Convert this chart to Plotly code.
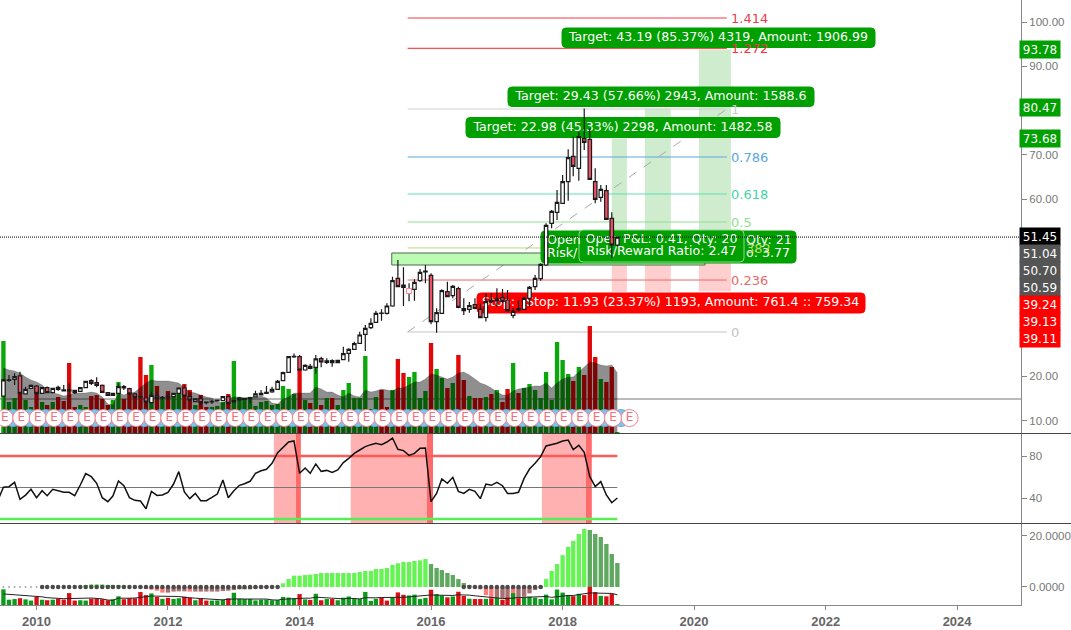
import pandas as pd
import plotly.graph_objects as go

# ---------------- data ----------------
dates = pd.date_range("2009-07-01", periods=113, freq="MS")

opens = [15.58,19.1,19.35,20.1,16.04,17.32,17.84,16.19,17.47,16.34,
17.54,16.94,16.94,16.86,16.64,17.47,19.05,18.59,18.0,16.34,
15.74,16.19,17.69,17.24,16.04,15.45,15.13,14.08,15.58,15.13,
15.2,15.43,16.19,17.39,15.43,14.31,14.98,14.2,14.23,14.46,
14.53,15.43,14.23,14.68,14.83,14.98,15.36,15.81,16.19,16.49,
17.09,19.05,20.93,24.4,24.46,21.45,22.28,22.05,24.01,23.49,
23.56,23.11,23.79,25.22,26.12,27.47,29.5,31.0,32.2,34.2,
34.24,35.9,42.14,40.63,38.9,39.66,41.61,43.57,42.82,32.36,
34.24,39.13,38.23,39.81,35.29,35.14,36.2,35.14,33.3,37.25,
37.47,37.77,37.25,33.79,34.99,35.14,37.63,40.26,42.07,45.15,
54.55,57.04,59.07,63.96,69.68,66.97,73.67,73.51,63.96,60.42,
61.93,55.68,49.66]
highs = [19.4,20.3,20.7,21.08,17.69,18.2,18.07,17.6,17.7,17.4,
17.92,18.07,18.44,17.0,17.6,19.0,19.35,19.8,18.15,16.5,
16.3,18.44,18.07,17.47,16.34,15.58,15.43,16.56,16.56,15.58,
16.34,16.3,17.5,18.07,16.04,15.0,15.58,14.3,14.68,14.75,
15.5,15.74,14.6,15.28,15.2,15.3,16.79,16.94,17.84,17.69,
19.2,21.08,24.6,25.2,24.84,22.73,22.8,24.84,24.46,24.09,
23.86,23.7,26.72,26.34,27.85,30.11,31.6,33.11,34.84,35.14,
36.5,42.5,46.28,44.62,41.01,41.91,44.25,45.15,43.27,35.37,
39.66,41.39,40.63,40.26,37.63,36.8,37.63,36.5,38.8,38.75,
39.88,39.73,39.51,35.37,37.25,38.0,40.41,42.9,45.53,54.55,
57.56,62.08,65.46,71.26,74.12,75.25,80.47,76.0,66.97,63.21,
63.21,57.04,51.6]
lows = [15.43,18.8,18.07,16.19,16.04,17.2,15.81,16.1,16.2,16.19,
16.79,16.71,15.43,16.04,16.5,17.4,18.07,17.54,16.34,15.7,
15.6,16.04,16.94,15.74,15.06,15.06,13.18,13.93,14.68,14.68,
14.68,15.3,16.1,15.43,14.31,14.2,13.55,13.7,13.78,14.3,
14.4,13.78,14.1,14.53,14.7,13.93,15.28,15.74,16.04,16.34,
17.0,19.0,20.8,24.24,21.3,21.3,21.6,20.55,22.05,22.81,
22.21,23.0,23.71,23.33,25.97,27.3,25.74,30.7,32.13,32.58,
34.0,35.74,40.11,35.9,36.95,37.1,41.39,41.01,31.76,29.87,
34.09,37.85,37.63,35.37,33.86,34.39,35.14,33.19,32.4,36.5,
35.74,36.5,34.61,33.11,34.61,34.99,35.74,39.51,41.61,44.92,
53.43,55.31,58.92,59.67,65.2,64.18,71.1,64.33,59.07,59.45,
55.31,46.65,49.28]
closes = [19.2,19.2,19.95,16.19,17.09,18.0,16.19,17.47,16.34,17.32,
17.09,16.71,16.74,16.34,17.47,18.9,18.44,18.0,16.41,15.74,
16.19,17.69,17.39,16.04,15.28,15.36,14.23,15.74,15.06,15.28,
15.36,16.19,17.39,15.58,14.68,14.91,14.08,14.08,14.38,14.68,
15.43,13.93,14.53,14.98,15.06,15.2,16.04,16.19,16.41,17.09,
18.9,20.85,24.46,24.54,21.45,22.5,21.83,23.94,23.26,23.19,
23.11,23.64,25.14,26.12,27.4,29.35,30.85,31.98,34.24,34.3,
35.89,41.61,40.26,40.11,39.65,41.24,43.5,43.8,32.36,34.39,
39.36,38.0,40.33,35.59,34.84,35.97,35.37,33.26,36.9,36.8,
37.1,36.95,34.84,34.69,35.29,37.63,40.11,42.14,45.3,54.1,
57.26,59.29,63.96,69.38,67.42,74.12,72.84,64.49,59.97,62.23,
55.46,49.66,51.45]

volume = [92,31,35,40,33,26,47,31,28,31,
36,32,70,26,28,26,37,38,34,28,
33,51,34,40,39,76,58,68,47,36,
42,36,40,49,43,28,38,26,26,27,
31,39,72,36,35,35,27,31,32,28,
29,47,44,39,64,33,30,66,28,35,
35,28,43,50,35,35,77,24,36,43,
26,43,74,60,56,61,35,42,90,64,
55,45,50,78,53,37,35,35,36,39,
43,31,44,70,40,45,49,43,35,61,
33,91,73,59,52,66,58,107,76,54,
51,66,1]
volume_dir = [1,1,1,-1,1,1,-1,1,-1,1,
-1,-1,-1,-1,1,1,-1,-1,-1,-1,
1,1,-1,-1,-1,-1,-1,1,-1,1,
-1,1,1,-1,-1,1,-1,-1,1,1,
1,-1,1,1,1,1,1,1,1,1,
1,1,1,1,-1,1,-1,1,-1,1,
-1,1,1,1,1,1,1,1,1,-1,
-1,1,-1,-1,1,1,1,1,-1,1,
1,-1,1,-1,-1,1,-1,-1,1,-1,
1,-1,-1,1,-1,1,1,1,1,1,
1,1,1,1,-1,1,-1,-1,-1,1,
-1,-1,1]
volume_avg = [65,63,62,60,56,53,51,48,43,40,
39,37,38,40,40,40,41,40,36,29,
28,40,38,40,41,46,50,53,52,52,
52,51,50,45,41,40,38,36,35,31,
30,34,36,36,35,36,36,37,35,30,
29,34,36,40,40,40,40,46,44,41,
41,38,36,40,37,36,43,41,42,44,
43,42,45,45,48,51,51,54,59,58,
56,54,56,60,61,58,54,50,48,45,
41,38,38,42,44,45,46,47,47,50,
45,50,54,56,56,61,65,71,70,68,
67,68,60]

rsi_dates = pd.date_range("2009-06-01", periods=114, freq="MS")
rsi = [38.1,50.2,50.8,54.9,38.7,42.8,48.3,40.3,47.0,42.2,48.3,
46.7,45.4,45.4,42.2,52.4,63.2,60.3,54.0,40.3,36.5,
41.9,56.2,51.7,40.3,37.8,37.1,29.8,46.3,42.5,42.9,
45.4,53.3,65.1,45.7,39.4,44.4,37.5,37.5,40.6,43.8,
57.1,40.3,47.0,52.1,53.6,55.9,63.5,66.0,67.3,73.0,
83.2,88.2,93.3,94.3,63.5,68.6,63.5,72.4,65.4,66.3,
64.4,66.7,73.7,77.8,82.5,85.7,88.9,90.8,92.1,90.8,
93.3,97.1,86.4,85.1,80.6,82.5,87.3,87.6,36.5,44.4,
58.1,54.0,59.7,46.3,44.4,48.3,46.3,39.4,53.3,52.1,
54.9,51.7,44.4,44.4,45.4,58.7,67.6,73.0,79.4,89.5,
90.8,92.1,94.3,95.2,86.0,90.2,83.5,60.3,50.8,55.6,
42.9,35.5,40.0]

hist = [0,0,0,0,0,0,0,0,0,0,
0,0,0,0,0,.65,1.05,1.05,1.05,.65,
.4,.5,.65,0,0,-.4,-.8,-1.05,-1.45,-2.2,
-2.2,-1.8,-1.7,-1.7,-1.8,-1.8,-1.8,-1.8,-1.8,-1.8,
-1.6,-1.45,-1.2,-.9,-.9,-.9,-.65,-.5,-.4,-.15,
.15,1.45,3.1,4.45,4.45,4.7,4.85,5.1,5.5,5.5,
5.5,5.5,5.5,5.5,5.5,5.9,6.3,6.3,7.05,7.05,
7.45,8.65,9.3,9.8,9.8,10.2,10.45,11.0,9.0,7.45,
6.65,5.5,4.7,3.1,1.55,.8,-.15,-.9,-3.15,-4.45,
-4.45,-4.45,-4.45,-5.1,-4.45,-3.8,-2.5,-1.2,-.5,3.1,
6.3,9.0,12.5,15.7,18.05,20.8,22.75,22.35,20.8,19.6,
16.85,12.95,9.4]

earnings_dates = [f"{y}-{mm:02d}-08" for y in range(2009, 2020) for mm in (1, 4, 7, 10)
                  if "2009-07" <= f"{y}-{mm:02d}" <= "2019-01"]
dividend_dates = [f"{y}-{mm:02d}-22" for y in range(2009, 2019) for mm in (2, 5, 8, 11)
                  if "2009-08" <= f"{y}-{mm:02d}" <= "2018-11"]

fib_levels = [1.414, 1.272, 1, 0.786, 0.618, 0.5, 0.382, 0.236, 0]
fib_prices = [100.9, 94.07, 80.36, 69.53, 61.18, 54.86, 49.0, 41.76, 30.03]
fib_colors = ["#f23645", "#ff2020", "#cfcfcf", "#5aa7df", "#5fe0b5", "#8fe08f", "#b5dc70", "#e86a6a", "#c4c4c4"]
fib_names = ["1.414", "1.272", "1", "0.786", "0.618", "0.5", "", "0.236", "0"]
fib_text_colors = ["#e8404f", "#ff3040", "#cccccc", "#5aa7df", "#45d4a8", "#8fe08f", "#b5dc70", "#e86a6a", "#c4c4c4"]

right_labels = ["93.78", "80.47", "73.68", "51.45", "51.04", "50.70", "50.59", "39.24", "39.13", "39.11"]
right_fills = ["#00a000"] * 3 + ["#000000"] + ["#555555"] * 3 + ["#ff0000"] * 3
right_px = [49.5, 108, 138, 236, 253, 270, 287, 304, 321, 338]

# ---------------- geometry helpers ----------------
W, H = 1021.0, 605.0
T0 = pd.Timestamp("2009-06-12")
T1 = pd.Timestamp("2024-12-21")
px_ms = (T1 - T0) / W


def x_at(px):
    return T0 + px * px_ms


def price_at(py):
    return 104.97 - py / 4.43


def rounded(x0, x1, y0, y1, r=4):
    pts = [("M", x0 + r, y0), ("L", x1 - r, y0), ("Q", x1, y0, x1, y0 + r), ("L", x1, y1 - r),
           ("Q", x1, y1, x1 - r, y1), ("L", x0 + r, y1), ("Q", x0, y1, x0, y1 - r), ("L", x0, y0 + r),
           ("Q", x0, y0, x0 + r, y0)]
    out = []
    for p in pts:
        vals = p[1:]
        coords = []
        for k in range(0, len(vals), 2):
            coords.append(f"{x_at(vals[k]).strftime('%Y-%m-%d_%H:%M:%S')},{price_at(vals[k + 1]):.4f}")
        out.append(p[0] + " ".join(coords))
    return " ".join(out) + " Z"


def badge(x0, x1, y0, y1, fill, border=None):
    return dict(type="path", xref="x", yref="y3", path=rounded(x0, x1, y0, y1), fillcolor=fill,
                line=dict(color=border or fill, width=1), layer="below")


fig = go.Figure()

# ---- volume in price pane
vol_colors = ["#0aa80a" if d > 0 else "#e00808" for d in volume_dir]
fig.add_bar(x=dates, y=volume, marker=dict(color=vol_colors, line_width=0), yaxis="y", xaxis="x", hoverinfo="skip")
fig.add_scatter(x=dates, y=volume_avg, mode="lines", line=dict(color="rgba(0,0,0,0.18)", width=1),
                fill="tozeroy", fillcolor="rgba(0,0,0,0.44)", yaxis="y", xaxis="x", hoverinfo="skip")

# ---- label text layer (below the candles)
GREEN = "#00a000"
RED = "#ff0000"
LBL = "DejaVu Sans"
label_rows = [
    ("Target: 43.19 (85.37%) 4319, Amount: 1906.99", 718.5, 37.5, "middle center"),
    ("Target: 29.43 (57.66%) 2943, Amount: 1588.6", 661, 96.5, "middle center"),
    ("Target: 22.98 (45.33%) 2298, Amount: 1482.58", 623, 127.5, "middle center"),
    ("Open", 547, 241, "middle right"),
    ("Risk/", 547, 254, "middle right"),
    ("Qty: 21", 746, 241, "middle right"),
    ("o: 3.77", 746, 254, "middle right"),
    ("Open P&L: 0.41, Qty: 20", 661.5, 239.5, "middle center"),
    ("Risk/Reward Ratio: 2.47", 661.5, 251.5, "middle center"),
    ("Stop:", 482, 303, "middle right"),
    ("Stop: 11.93 (23.37%) 1193, Amount: 761.4 :: 759.34", 526, 303, "middle right"),
]
fig.add_scatter(x=[x_at(r[1]) for r in label_rows], y=[price_at(r[2]) for r in label_rows],
                text=[r[0] for r in label_rows], textposition=[r[3] for r in label_rows],
                mode="text", textfont=dict(family=LBL, size=12.6, color="white"),
                yaxis="y2", xaxis="x", hoverinfo="skip")

# ---- candles
fig.add_candlestick(x=dates, open=opens, high=highs, low=lows, close=closes, yaxis="y3", xaxis="x",
                    increasing=dict(fillcolor="white", line=dict(color="#1a1a1a", width=1.2)),
                    decreasing=dict(fillcolor="#ef5064", line=dict(color="#1a1a1a", width=1.2)),
                    whiskerwidth=0, hoverinfo="skip")
fig.add_scatter(x=[dates[74]], y=[(opens[74] + closes[74]) / 2], mode="markers",
                marker=dict(symbol="square", size=5, color="white", line=dict(color="#ff8090", width=1)),
                yaxis="y3", xaxis="x", hoverinfo="skip")

# ---- dividend and earnings markers
fig.add_scatter(x=dividend_dates, y=[10.6] * len(dividend_dates), mode="markers",
                marker=dict(size=17, color="#7cc4ee", line=dict(color="#5ab0e8", width=1)),
                yaxis="y3", xaxis="x", hoverinfo="skip")
fig.add_scatter(x=earnings_dates, y=[10.6] * len(earnings_dates), mode="markers+text", text=["E"] * len(earnings_dates),
                textposition="middle center", textfont=dict(family=LBL, size=12, color="#f0707e"),
                marker=dict(size=17, color="white", line=dict(color="#f5838f", width=1)),
                yaxis="y3", xaxis="x", hoverinfo="skip")

# ---- fib labels
fig.add_scatter(x=[x_at(731)] * len(fib_levels), y=[p - 0.3 for p in fib_prices],
                text=fib_names, mode="text", textposition="middle right",
                textfont=dict(family=LBL, size=13, color=fib_text_colors), yaxis="y3", xaxis="x", hoverinfo="skip")
fig.add_scatter(x=[x_at(746)], y=[fib_prices[6] - 0.3], text=["382"], mode="text", textposition="middle right",
                textfont=dict(family=LBL, size=13, color=fib_text_colors[6]), yaxis="y3", xaxis="x", hoverinfo="skip")

# ---- RSI pane
for val, col, wid in [(80, "#ff5a5a", 2.5), (50, "#777777", 1), (20, "#55ee55", 2.5)]:
    fig.add_scatter(x=[rsi_dates[0], dates[-1]], y=[val, val], mode="lines", line=dict(color=col, width=wid),
                    yaxis="y4", xaxis="x", hoverinfo="skip")
fig.add_scatter(x=rsi_dates, y=rsi, mode="lines", line=dict(color="#111111", width=1.5), yaxis="y4", xaxis="x", hoverinfo="skip")

# ---- MACD pane
hist_colors = []
for k, v in enumerate(hist):
    rising = k == 0 or v >= hist[k - 1]
    if v >= 0:
        hist_colors.append("#66f455" if rising else "#5fa85f")
    else:
        hist_colors.append("#a87070" if rising else "#ff7a7a")
fig.add_bar(x=dates, y=hist, marker=dict(color=hist_colors, line_width=0), yaxis="y5", xaxis="x", hoverinfo="skip")
dot_idx = list(range(7, 51)) + list(range(84, 99))
fig.add_scatter(x=[dates[k] for k in dot_idx], y=[0] * len(dot_idx), mode="markers",
                marker=dict(size=4.5, color="#4a4a4a"), yaxis="y5", xaxis="x", hoverinfo="skip")
fig.add_scatter(x=dates[:7], y=[0] * 7, mode="markers", marker=dict(size=2, color="#aaaaaa"), yaxis="y5", xaxis="x", hoverinfo="skip")
fig.add_bar(x=dates, y=volume, marker=dict(color=["#0d9a1c" if d > 0 else "#d80f14" for d in volume_dir], line_width=0),
            yaxis="y6", xaxis="x", hoverinfo="skip")
fig.add_scatter(x=dates, y=volume_avg, mode="lines", line=dict(color="#222222", width=1), yaxis="y6", xaxis="x", hoverinfo="skip")

# ---- shapes
shapes = []
boxes = [("2018-10-01", "2018-12-24", 73.68, 39.11), ("2019-04-03", "2019-08-25", 80.47, 39.13), ("2020-01-28", "2020-07-24", 93.78, 39.24)]
for a, b, top, stop in boxes:
    shapes.append(dict(type="rect", xref="x", yref="y3", x0=a, x1=b, y0=50.6, y1=top, fillcolor="#cfeccf", line_width=0, layer="below"))
    shapes.append(dict(type="rect", xref="x", yref="y3", x0=a, x1=b, y0=stop, y1=50.6, fillcolor="#ffcfcf", line_width=0, layer="below"))
for p, col in zip(fib_prices, fib_colors):
    shapes.append(dict(type="line", xref="x", yref="y3", x0="2015-08-24", x1="2020-07-01", y0=p, y1=p,
                       line=dict(color=col, width=1), layer="below"))
shapes.append(dict(type="line", xref="x", yref="y3", x0="2015-08-24", x1="2020-07-01", y0=fib_prices[-1], y1=fib_prices[2],
                   line=dict(color="#aaaaaa", width=1, dash="dash"), layer="below"))
shapes.append(dict(type="rect", xref="x", yref="y3", x0="2015-05-28", x1="2020-03-02", y0=45.15, y1=47.86,
                   fillcolor="#bdfbb5", line=dict(color="#4a6b4a", width=1), layer="below"))
shapes += [badge(562, 875, 28, 47.5, GREEN), badge(508, 814, 87, 106.5, GREEN), badge(466, 780, 117.5, 137.5, GREEN),
           badge(541, 796, 231, 263, GREEN), badge(579, 744, 230, 262, GREEN, "#8fd88f"),
           badge(477, 865, 293, 313, RED)]
shapes.append(dict(type="line", xref="paper", yref="y3", x0=0, x1=1, y0=14.9, y1=14.9, line=dict(color="#777777", width=1), layer="below"))
shapes.append(dict(type="line", xref="paper", yref="y3", x0=0, x1=1, y0=51.45, y1=51.45, line=dict(color="#000000", width=1, dash="1px,1px"), layer="above"))
for a, b, c in [("2013-08-11", "2013-12-12", "2014-01-08"), ("2014-10-12", "2015-12-09", "2016-01-12"), ("2017-09-08", "2018-05-10", "2018-06-12")]:
    shapes.append(dict(type="rect", xref="x", yref="paper", x0=a, x1=b, y0=1 - 523 / H, y1=1 - 434 / H, fillcolor="#ffb0b0", line_width=0, layer="below"))
    shapes.append(dict(type="rect", xref="x", yref="paper", x0=b, x1=c, y0=1 - 523 / H, y1=1 - 434 / H, fillcolor="#ff6a6a", line_width=0, layer="below"))
for py in (433.5, 523.5):
    shapes.append(dict(type="line", xref="paper", yref="paper", x0=0, x1=1071 / W, y0=1 - py / H, y1=1 - py / H,
                       line=dict(color="#444444", width=1), layer="above"))

annotations = []
for txt, fill, py in zip(right_labels, right_fills, right_px):
    annotations.append(dict(xref="paper", yref="paper", x=1.0, y=1 - py / H, xanchor="left", yanchor="middle", text=txt,
                            showarrow=False, bgcolor=fill, width=38, height=15, align="center", xshift=-2,
                            font=dict(family=LBL, size=12, color="white")))

axis_font = dict(family="Liberation Sans", size=11.5, color="#777777")
hidden = dict(visible=False, fixedrange=True)
right = dict(side="right", showgrid=False, zeroline=False, showline=True, linecolor="#888888", linewidth=1,
             ticks="outside", ticklen=5, tickcolor="#888888", tickfont=axis_font, anchor="x", fixedrange=True)
fig.update_layout(
    width=1071, height=630, autosize=False, margin=dict(l=0, r=50, t=0, b=25, pad=0, autoexpand=False),
    paper_bgcolor="white", plot_bgcolor="white", showlegend=False, barmode="overlay", bargap=0.14, boxgap=0.02,
    xaxis=dict(type="date", range=[T0, T1], tick0="2010-01-01", dtick="M24", tickformat="%Y", showgrid=False, zeroline=False,
               showline=True, linecolor="#888888", linewidth=1, ticks="outside", ticklen=4, tickcolor="#888888",
               tickfont=dict(family="Liberation Sans", size=13, color="#666666", weight="bold"),
               anchor="y6", rangeslider=dict(visible=False), fixedrange=True),
    yaxis=dict(domain=[1 - 433 / H, 1], range=[0, 433], **hidden),
    yaxis2=dict(domain=[1 - 433 / H, 1], range=[price_at(433), price_at(0)], overlaying="y", **hidden),
    yaxis3=dict(domain=[1 - 433 / H, 1], range=[price_at(433), price_at(0)], overlaying="y",
                tickvals=[10, 20, 60, 70, 90, 100], tickformat=".2f", **right),
    yaxis4=dict(domain=[1 - 523 / H, 1 - 434 / H], range=[16.2, 100.95], tickvals=[40, 80], tickformat="d", **right),
    yaxis5=dict(domain=[0, 1 - 524 / H], range=[-7.06, 24.7], tickvals=[0, 20], tickformat=".4f", **right),
    yaxis6=dict(domain=[0, 1 - 524 / H], range=[0, 476], overlaying="y5", **hidden),
    shapes=shapes, annotations=annotations,
)
fig.write_html("out.html", config=dict(displayModeBar=False),
               post_script="document.body.style.margin='0';document.body.style.overflow='hidden';")
